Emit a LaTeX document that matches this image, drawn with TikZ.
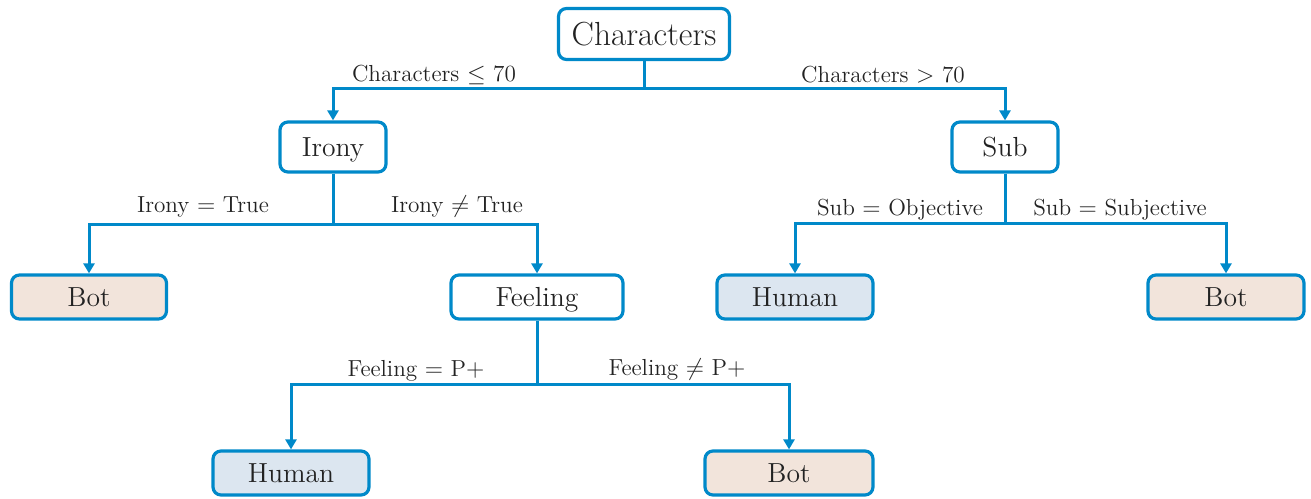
\documentclass[tikz,border=0pt]{standalone}
\usetikzlibrary{arrows.meta}
\definecolor{edgeblue}{RGB}{0,137,201}
\definecolor{botfill}{RGB}{242,228,219}
\definecolor{humfill}{RGB}{220,230,240}
\definecolor{txt}{RGB}{34,34,34}
\begin{document}
\begin{tikzpicture}[x=0.5pt,y=-0.5pt,
 box/.style={draw=edgeblue, line width=1.6pt, rounded corners=4pt, fill=white, text=txt, inner sep=0pt, text height=9.8pt, text depth=0pt, font=\fontsize{13.8}{16}\selectfont},
 botbox/.style={box, fill=botfill},
 humbox/.style={box, fill=humfill},
 conn/.style={draw=edgeblue, line width=1.5pt, -{Triangle[width=5.5pt,length=5pt]}},
 lab/.style={text=txt, font=\fontsize{11.6}{14}\selectfont, inner sep=0pt}]
\useasboundingbox (0,0) rectangle (1311,498);
% nodes
\node[box, minimum width=85.5pt, minimum height=25.5pt, text height=11.8pt, font=\fontsize{16.7}{19}\selectfont] (chars) at (644,34) {Characters};
\node[box, minimum width=53pt, minimum height=25pt] (irony) at (333,147) {Irony};
\node[box, minimum width=53pt, minimum height=25pt] (sub) at (1005,147) {Sub};
\node[botbox, minimum width=77.5pt, minimum height=22pt] (bot1) at (89,297) {Bot};
\node[box, minimum width=86pt, minimum height=22pt] (feel) at (537,297) {Feeling};
\node[humbox, minimum width=78pt, minimum height=22pt] (hum1) at (795,297) {Human};
\node[botbox, minimum width=78pt, minimum height=22pt] (bot2) at (1226,297) {Bot};
\node[humbox, minimum width=78pt, minimum height=22pt] (hum2) at (291,473) {Human};
\node[botbox, minimum width=84pt, minimum height=22pt] (bot3) at (789,473) {Bot};
% junctions
\coordinate (j1) at (644,88);
\coordinate (j2) at (333,224);
\coordinate (j3) at (1005,223);
\coordinate (j4) at (537,384);
% connectors
\draw[conn] (chars) -- (j1) -| (irony);
\draw[conn] (chars) -- (j1) -| (sub);
\draw[conn] (irony) -- (j2) -| (bot1);
\draw[conn] (irony) -- (j2) -| (feel);
\draw[conn] (sub) -- (j3) -| (hum1);
\draw[conn] (sub) -- (j3) -| (bot2);
\draw[conn] (feel) -- (j4) -| (hum2);
\draw[conn] (feel) -- (j4) -| (bot3);
% labels
\node[lab] (l1) at (434,75) {Characters $\leq$ 70};
\node[lab] (l2) at (883,75) {Characters $>$ 70};
\node[lab] (l3) at (203,207) {Irony $=$ True};
\node[lab] (l4) at (457,207) {Irony $\neq$ True};
\node[lab] (l5) at (900,210) {Sub $=$ Objective};
\node[lab] (l6) at (1120,210) {Sub $=$ Subjective};
\node[lab] (l7) at (416,371) {Feeling $=$ P$+$};
\node[lab] (l8) at (677,370) {Feeling $\neq$ P$+$};
\end{tikzpicture}
\end{document}
